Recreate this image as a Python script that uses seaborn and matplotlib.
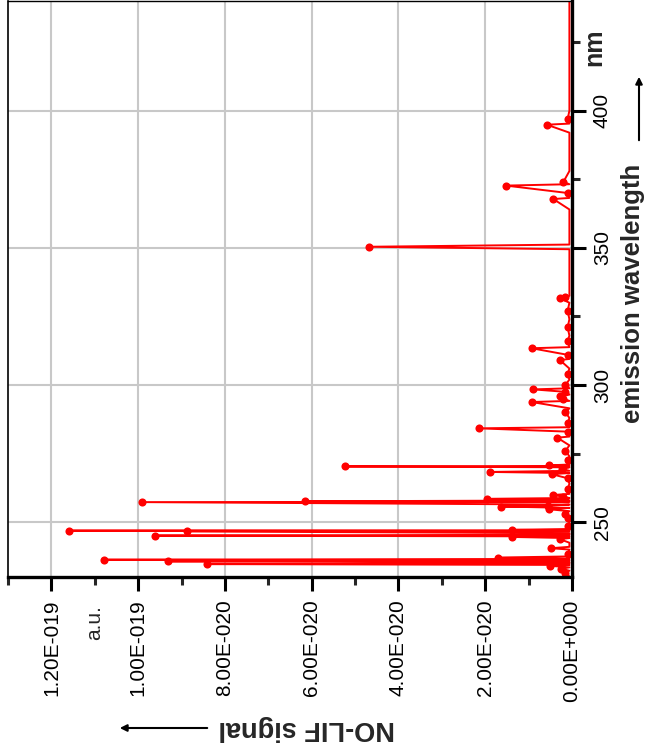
import matplotlib
matplotlib.use("Agg")
import matplotlib.pyplot as plt
import pandas as pd
import seaborn as sns
from matplotlib.ticker import MultipleLocator

# ---- data (emission wavelength in nm, NO-LIF signal in a.u.) ----
wavelength_nm = [
    230.2, 231.5, 232.3, 233.0, 233.5, 234.1, 234.4, 234.7, 235.0, 235.4,
    235.7, 236.0, 236.3, 236.6, 237.1, 237.5, 238.5, 240.0, 240.5, 241.0,
    242.5, 243.8, 244.2, 244.6, 244.8, 245.1, 245.4, 246.0, 246.6, 246.75,
    246.9, 247.05, 247.2, 247.5, 248.5, 250.0, 251.5, 253.0, 254.0, 254.7,
    255.2, 255.7, 256.0, 256.4, 257.3, 257.45, 257.6, 257.9, 258.5, 258.8,
    259.3, 259.9, 260.3, 262.0, 264.0, 266.0, 267.5, 267.9, 268.3, 268.7,
    269.5, 270.0, 270.3, 270.5, 270.7, 271.0, 272.5, 274.0, 276.0, 278.0,
    280.8, 281.2, 283.0, 284.2, 284.6, 286.0, 288.0, 290.0, 291.5, 293.8,
    294.2, 295.0, 296.0, 296.5, 297.5, 298.4, 298.8, 300.0, 302.0, 304.0,
    306.0, 309.1, 309.5, 311.0, 313.4, 313.8, 316.0, 318.0, 321.0, 324.0,
    327.0, 330.0, 331.6, 332.0, 332.5, 335.0, 340.0, 345.0, 349.5, 350.4,
    351.2, 355.0, 360.0, 364.0, 367.8, 368.2, 370.0, 372.7, 373.2, 374.0,
    378.0, 383.0, 388.0, 392.0, 394.9, 395.3, 397.0, 400.0, 405.0, 410.0,
    415.0, 420.0, 425.0, 430.0, 435.0, 440.0,
]
signal_au = [
    6e-22, 1.5e-21, 6e-22, 2.5e-21, 6e-22, 5.1e-21, 6e-22, 8.41e-20, 6e-22, 6e-22,
    9.31e-20, 6e-22, 1.079e-19, 6e-22, 1.70e-20, 6e-22, 1.0e-21, 6e-22, 4.8e-21, 6e-22,
    6e-22, 2.8e-21, 6e-22, 1.39e-20, 6e-22, 9.62e-20, 6e-22, 6e-22, 8.88e-20, 6e-22,
    1.16e-19, 6e-22, 1.39e-20, 6e-22, 1.0e-21, 6e-22, 1.0e-21, 1.5e-21, 6e-22, 5.3e-21,
    6e-22, 1.64e-20, 5.5e-21, 6e-22, 9.91e-20, 6e-22, 6.15e-20, 6e-22, 1.96e-20, 6e-22,
    2.1e-21, 4.4e-21, 6e-22, 1.0e-21, 6e-22, 1.0e-21, 4.7e-21, 6e-22, 1.89e-20, 6e-22,
    2.4e-21, 6e-22, 5.24e-20, 6e-22, 5.4e-21, 6e-22, 1.0e-21, 6e-22, 1.5e-21, 6e-22,
    3.4e-21, 6e-22, 1.0e-21, 2.14e-20, 6e-22, 1.0e-21, 6e-22, 1.5e-21, 6e-22, 9.3e-21,
    6e-22, 2.0e-21, 2.8e-21, 6e-22, 1.5e-21, 8.9e-21, 6e-22, 1.5e-21, 6e-22, 1.0e-21,
    6e-22, 2.8e-21, 6e-22, 1.0e-21, 9.3e-21, 6e-22, 1.0e-21, 6e-22, 1.0e-21, 6e-22,
    1.0e-21, 6e-22, 2.8e-21, 1.5e-21, 6e-22, 6e-22, 6e-22, 6e-22, 6e-22, 4.68e-20,
    6e-22, 6e-22, 6e-22, 6e-22, 4.3e-21, 6e-22, 1.0e-21, 1.52e-20, 6e-22, 2.0e-21,
    6e-22, 6e-22, 6e-22, 6e-22, 5.8e-21, 6e-22, 1.0e-21, 6e-22, 6e-22, 6e-22,
    6e-22, 6e-22, 6e-22, 6e-22, 6e-22, 6e-22,
]
baseline_au = 6e-22

signal_ticks = [1.2e-19, 1.0e-19, 8.0e-20, 6.0e-20, 4.0e-20, 2.0e-20, 0.0]
signal_tick_labels = ["1.20E-019", "1.00E-019", "8.00E-020", "6.00E-020",
                      "4.00E-020", "2.00E-020", "0.00E+000"]
wavelength_ticks = [250, 300, 350, 400]
wavelength_tick_labels = ["250", "300", "350", "400"]

sns.set_theme(style="whitegrid")
plt.rcParams["font.family"] = ["Liberation Sans", "DejaVu Sans"]

W, H = 651, 751
fig = plt.figure(figsize=(W / 100, H / 100), dpi=100)
fig.patch.set_facecolor("white")
ax = fig.add_axes([8 / W, 174 / H, 564 / W, 576 / H])
ax.set_facecolor("white")

df = pd.DataFrame({"wavelength": wavelength_nm, "signal": signal_au})
sns.lineplot(data=df, x="signal", y="wavelength", sort=False, estimator=None,
             orient="y", color="#ff0000", linewidth=1.4, ax=ax)
peaks = df[df["signal"] > baseline_au]
sns.scatterplot(data=peaks, x="signal", y="wavelength", color="#ff0000",
                s=34, linewidth=0, marker="o", ax=ax, zorder=3)

ax.set_xlim(1.3e-19, 0)
ax.set_ylim(230, 440)
ax.set_xlabel("")
ax.set_ylabel("")

ax.set_xticks(signal_ticks)
ax.set_xticklabels(signal_tick_labels, rotation=90, va="top", ha="center",
                   fontsize=15)
ax.xaxis.set_minor_locator(MultipleLocator(1e-20))

ax.yaxis.tick_right()
ax.set_yticks(wavelength_ticks)
ax.set_yticklabels(wavelength_tick_labels, rotation=90, va="center",
                   ha="left", fontsize=15)
ax.yaxis.set_minor_locator(MultipleLocator(25))

ax.tick_params(axis="x", which="major", direction="out", length=10, width=2.2,
               pad=6, bottom=True, colors="black")
ax.tick_params(axis="x", which="minor", direction="out", length=6, width=2.2,
               bottom=True)
ax.tick_params(axis="y", which="major", direction="out", length=10, width=2.2,
               pad=5, right=True, left=False, colors="black")
ax.tick_params(axis="y", which="minor", direction="out", length=6, width=2.2,
               right=True, left=False)

ax.grid(True, which="major", color="#c8c8c8", linewidth=1.5)
ax.grid(False, which="minor")
ax.set_axisbelow(True)

for side, lw in [("bottom", 2.4), ("right", 2.4), ("top", 1.0), ("left", 1.2)]:
    ax.spines[side].set_visible(True)
    ax.spines[side].set_color("black")
    ax.spines[side].set_linewidth(lw)
    ax.spines[side].set_zorder(4)

def fx(px):
    return px / W

def fy(py):
    return 1 - py / H

fig.text(fx(95), fy(623), "a.u.", rotation=90, ha="center", va="center",
         fontsize=15)
fig.text(fx(307), fy(728), "NO-LIF signal", rotation=180, ha="center",
         va="center", fontsize=19.5, fontweight="bold")
fig.add_artist(matplotlib.patches.FancyArrowPatch(
    (fx(210), fy(728)), (fx(117), fy(728)), transform=fig.transFigure,
    arrowstyle="-|>", mutation_scale=10, linewidth=1.5, color="black"))

fig.text(fx(633), fy(293), "emission wavelength", rotation=90, ha="center",
         va="center", fontsize=18.5, fontweight="bold")
fig.add_artist(matplotlib.patches.FancyArrowPatch(
    (fx(639), fy(143)), (fx(639), fy(74)), transform=fig.transFigure,
    arrowstyle="-|>", mutation_scale=10, linewidth=1.5, color="black"))
fig.text(fx(594), fy(47), "nm", rotation=90, ha="center", va="center",
         fontsize=18, fontweight="bold")

fig.savefig("out.png", dpi=100)
